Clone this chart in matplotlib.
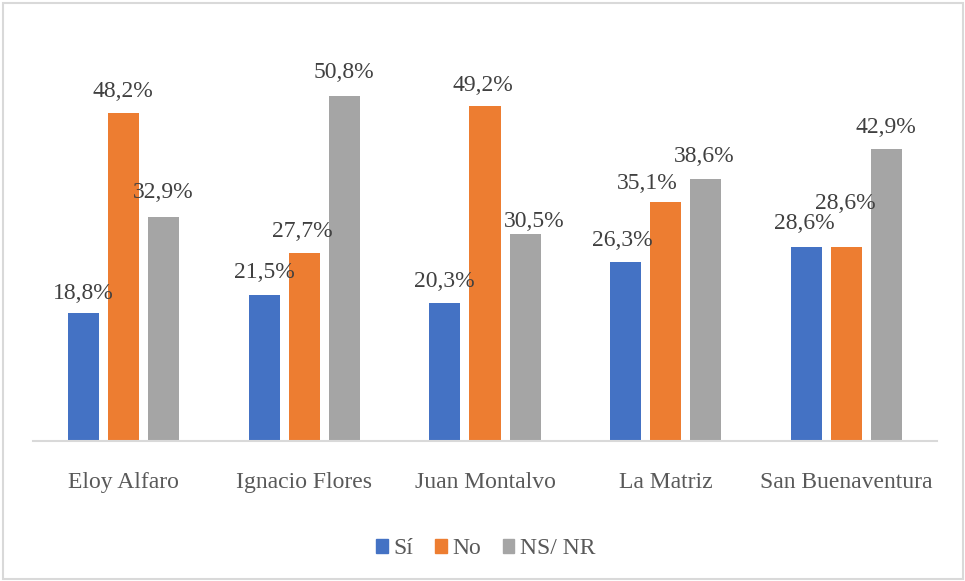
import numpy as np
import matplotlib.pyplot as plt
from matplotlib.patches import Rectangle

# Porcentajes por parroquia
parroquias = ['Eloy Alfaro', 'Ignacio Flores', 'Juan Montalvo', 'La Matriz', 'San Buenaventura']
si = [18.8, 21.5, 20.3, 26.3, 28.6]
no = [48.2, 27.7, 49.2, 35.1, 28.6]
ns_nr = [32.9, 50.8, 30.5, 38.6, 42.9]

series = [('Sí', si, '#4472C4'), ('No', no, '#ED7D31'), ('NS/ NR', ns_nr, '#A5A5A5')]

# desplazamiento de cada etiqueta respecto al tope de la barra (px)
label_shift = [
    [(0, 20), (0, 22), (-1, 21), (-3, 22), (-2, 23)],
    [(-1, 22), (-2, 21), (-2, 21), (-19, 19), (-1, 43)],
    [(0, 25), (0, 23), (9, 12), (-2, 22), (-1, 22)],
]

plt.rcParams['font.family'] = ['Liberation Serif', 'DejaVu Serif']

W, H = 965, 581
fig = plt.figure(figsize=(W / 100, H / 100), dpi=100)
ax = fig.add_axes([33 / W, 140 / H, 904 / W, 374 / H])

x = np.arange(len(parroquias))
width = 0.172
step = 0.222
pt = 0.72  # px -> puntos
fs = 17

for i, (name, vals, color) in enumerate(series):
    pos = x + (i - 1) * step
    ax.bar(pos, vals, width, color=color, label=name, zorder=2)
    for j, v in enumerate(vals):
        dx, dy = label_shift[i][j]
        ax.annotate('{:.1f}%'.format(v).replace('.', ','), xy=(pos[j], v),
                    xytext=(dx * pt, dy * pt), textcoords='offset points',
                    ha='center', va='center', fontsize=fs, color='#404040')

ax.set_xlim(-0.5, 4.5)
ax.set_ylim(0, 55)
ax.set_yticks([])
ax.set_xticks(x)
ax.set_xticklabels(parroquias, fontsize=fs, color='#595959')
ax.tick_params(axis='x', length=0, pad=22)
for s in ['top', 'right', 'left']:
    ax.spines[s].set_visible(False)
ax.spines['bottom'].set_color('#D9D9D9')
ax.spines['bottom'].set_linewidth(1.5)
ax.spines['bottom'].set_zorder(3)

handles = [Rectangle((0, 0), 1, 1, color=c) for _, _, c in series]
fig.legend(handles, [s[0] for s in series], loc='center',
           bbox_to_anchor=(486 / W, 1 - 549 / H), ncol=3, frameon=False,
           fontsize=fs, handlelength=0.5, handleheight=0.5,
           handletextpad=0.25, columnspacing=0.9, labelcolor='#595959')

# marco exterior
fig.patches.append(Rectangle((3 / W, 2 / H), 960 / W, 576 / H, transform=fig.transFigure,
                             fill=False, edgecolor='#D9D9D9', linewidth=1.5))

fig.savefig('out.png', dpi=100)
